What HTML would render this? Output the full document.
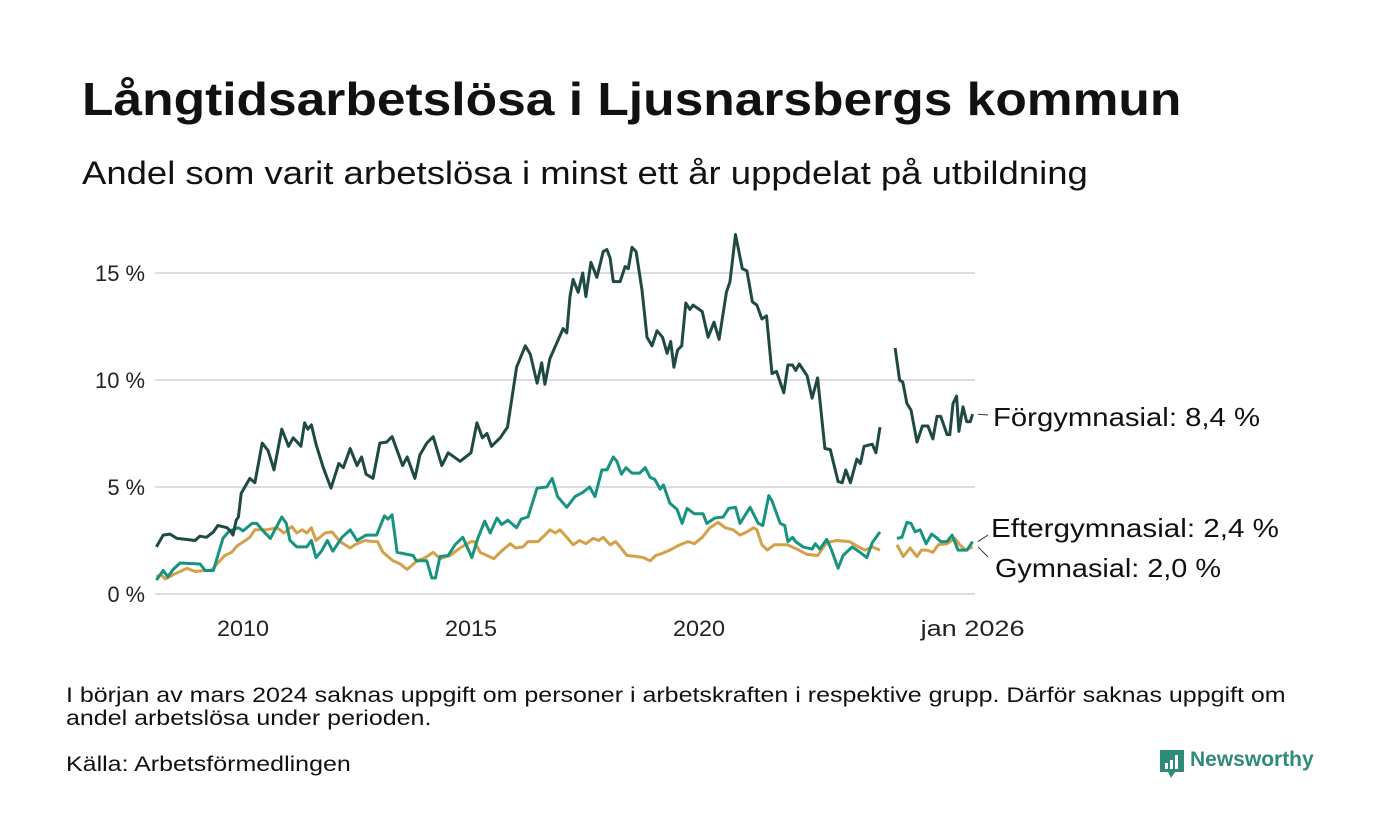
<!DOCTYPE html>
<html><head><meta charset="utf-8">
<style>
body{margin:0;background:#fff;width:1400px;height:840px;overflow:hidden;font-family:"Liberation Sans",sans-serif;color:#111;}
.t{position:absolute;white-space:nowrap;transform-origin:0 0;}
</style></head>
<body>
<div class="t" style="left:82px;top:72px;font-size:46px;font-weight:bold;transform:scaleX(1.12);">Långtidsarbetslösa i Ljusnarsbergs kommun</div>
<div class="t" style="left:82px;top:155px;font-size:32px;transform:scaleX(1.14);">Andel som varit arbetslösa i minst ett år uppdelat på utbildning</div>
<svg id="chart" width="1400" height="660" style="position:absolute;left:0;top:0" font-family="Liberation Sans, sans-serif"></svg>
<div class="t" style="left:66px;top:684px;font-size:21px;line-height:23px;transform:scaleX(1.19);">I början av mars 2024 saknas uppgift om personer i arbetskraften i respektive grupp. Därför saknas uppgift om<br>andel arbetslösa under perioden.</div>
<div class="t" style="left:66px;top:753px;font-size:21px;transform:scaleX(1.19);">Källa: Arbetsförmedlingen</div>
<div style="position:absolute;left:1160px;top:750px;">
<svg width="26" height="30" style="position:absolute;left:0;top:0"><path d="M0 0H24V22H15L11 28L8 22H0Z" fill="#2e8b7a"/><rect x="5" y="13" width="3" height="6" fill="#fff"/><rect x="10" y="10" width="3" height="9" fill="#fff"/><rect x="15" y="5" width="3" height="14" fill="#fff"/></svg>
<div class="t" style="left:30px;top:-2px;font-size:21px;font-weight:bold;color:#2e8b7a;">Newsworthy</div>
</div>
<script>
const yTicks=[0,5,10,15];
const yTickLabels=["0 %","5 %","10 %","15 %"];
const xTicks=[2010,2015,2020,2026];
const xTickLabels=["2010","2015","2020","jan 2026"];
const forDates=[2008.1,2008.25,2008.4,2008.55,2008.75,2008.95,2009.05,2009.2,2009.35,2009.45,2009.55,2009.65,2009.72,2009.78,2009.85,2009.9,2009.96,2010.15,2010.26,2010.42,2010.55,2010.68,2010.85,2011.0,2011.1,2011.27,2011.35,2011.42,2011.5,2011.6,2011.76,2011.93,2012.1,2012.2,2012.35,2012.5,2012.6,2012.7,2012.85,2013.0,2013.15,2013.27,2013.4,2013.5,2013.6,2013.77,2013.88,2014.03,2014.17,2014.36,2014.5,2014.76,2015.0,2015.13,2015.25,2015.35,2015.45,2015.64,2015.8,2016.0,2016.19,2016.3,2016.45,2016.55,2016.62,2016.73,2017.02,2017.1,2017.17,2017.24,2017.35,2017.45,2017.52,2017.63,2017.76,2017.9,2017.98,2018.05,2018.12,2018.27,2018.38,2018.45,2018.53,2018.62,2018.75,2018.86,2018.97,2019.08,2019.2,2019.3,2019.38,2019.45,2019.53,2019.62,2019.71,2019.8,2019.87,2020.07,2020.2,2020.33,2020.44,2020.6,2020.68,2020.8,2020.95,2021.05,2021.17,2021.27,2021.38,2021.48,2021.6,2021.7,2021.86,2021.95,2022.05,2022.12,2022.2,2022.37,2022.48,2022.6,2022.76,2022.88,2023.05,2023.14,2023.22,2023.32,2023.46,2023.54,2023.62,2023.8,2023.88,2023.97,2024.1,2024.3,2024.4,2024.47,2024.56,2024.65,2024.78,2024.9,2025.02,2025.13,2025.22,2025.3,2025.44,2025.5,2025.57,2025.65,2025.7,2025.79,2025.87,2025.95,2026.0];
const forValues=[2.2,2.75,2.8,2.6,2.55,2.5,2.7,2.65,2.9,3.2,3.15,3.1,2.95,2.75,3.45,3.6,4.7,5.4,5.2,7.05,6.7,5.8,7.7,6.9,7.3,6.9,8.0,7.7,7.9,7.0,5.9,4.95,6.1,5.9,6.8,6.0,6.4,5.6,5.4,7.05,7.1,7.35,6.6,6.0,6.4,5.4,6.5,7.05,7.35,6.0,6.6,6.2,6.6,8.0,7.3,7.5,6.9,7.3,7.8,10.6,11.6,11.2,9.85,10.8,9.8,11.0,12.4,12.2,13.9,14.7,14.1,15.0,13.9,15.5,14.8,16.0,16.1,15.7,14.6,14.6,15.3,15.2,16.2,16.0,14.2,12.0,11.6,12.3,12.0,11.25,11.8,10.6,11.4,11.6,13.6,13.3,13.5,13.2,12.0,12.7,11.9,14.1,14.6,16.8,15.2,15.1,13.65,13.5,12.85,13.0,10.3,10.4,9.4,10.7,10.7,10.45,10.75,10.2,9.15,10.1,6.8,6.75,5.25,5.2,5.8,5.2,6.3,6.1,6.9,7.0,6.6,7.8,null,11.5,10.0,9.9,8.9,8.6,7.1,7.85,7.85,7.25,8.3,8.3,7.45,7.45,8.9,9.25,7.6,8.75,8.05,8.05,8.4];
const eftDates=[2008.1,2008.25,2008.35,2008.47,2008.62,2009.06,2009.17,2009.35,2009.56,2009.7,2009.9,2010.0,2010.2,2010.3,2010.44,2010.6,2010.7,2010.85,2010.95,2011.03,2011.18,2011.4,2011.5,2011.6,2011.72,2011.85,2011.97,2012.17,2012.35,2012.5,2012.7,2012.93,2013.1,2013.18,2013.27,2013.38,2013.73,2013.8,2014.03,2014.14,2014.22,2014.32,2014.5,2014.65,2014.82,2015.02,2015.15,2015.3,2015.42,2015.57,2015.67,2015.81,2016.0,2016.1,2016.25,2016.45,2016.66,2016.78,2016.9,2017.1,2017.28,2017.45,2017.6,2017.72,2017.87,2017.98,2018.12,2018.2,2018.3,2018.4,2018.53,2018.7,2018.82,2018.93,2019.03,2019.15,2019.22,2019.36,2019.52,2019.63,2019.74,2019.9,2020.09,2020.17,2020.35,2020.53,2020.65,2020.8,2020.9,2021.12,2021.3,2021.4,2021.53,2021.6,2021.78,2021.88,2021.95,2022.05,2022.12,2022.28,2022.48,2022.55,2022.65,2022.8,2022.9,2023.05,2023.16,2023.36,2023.53,2023.68,2023.8,2023.97,2024.1,2024.34,2024.45,2024.56,2024.65,2024.74,2024.85,2024.98,2025.1,2025.2,2025.3,2025.44,2025.55,2025.68,2025.88,2026.0];
const eftValues=[0.65,1.1,0.8,1.15,1.45,1.4,1.1,1.1,2.6,2.95,3.1,2.95,3.3,3.3,2.95,2.6,3.0,3.6,3.3,2.5,2.2,2.2,2.5,1.7,2.0,2.5,2.0,2.65,3.0,2.5,2.75,2.75,3.65,3.5,3.7,1.95,1.8,1.55,1.55,0.75,0.75,1.75,1.8,2.3,2.65,1.7,2.6,3.4,2.85,3.55,3.25,3.45,3.1,3.5,3.6,4.95,5.0,5.4,4.55,4.05,4.55,4.75,5.0,4.55,5.8,5.8,6.4,6.2,5.6,5.9,5.65,5.65,5.9,5.45,5.35,4.9,5.1,4.25,3.95,3.3,4.0,3.75,3.75,3.3,3.55,3.6,4.0,4.05,3.3,4.05,3.3,3.2,4.6,4.35,3.3,3.2,2.45,2.65,2.45,2.2,2.1,2.35,2.1,2.55,2.1,1.2,1.8,2.2,1.95,1.7,2.4,2.9,null,2.6,2.65,3.35,3.3,2.9,3.0,2.35,2.8,2.65,2.45,2.45,2.75,2.05,2.05,2.45];
const gymDates=[2008.1,2008.2,2008.3,2008.47,2008.77,2008.95,2009.17,2009.3,2009.43,2009.6,2009.75,2009.87,2010.05,2010.15,2010.26,2010.52,2010.75,2010.9,2011.07,2011.18,2011.3,2011.4,2011.5,2011.6,2011.8,2011.95,2012.13,2012.35,2012.45,2012.67,2012.85,2012.95,2013.07,2013.29,2013.45,2013.6,2013.82,2014.0,2014.17,2014.32,2014.54,2014.76,2015.0,2015.08,2015.2,2015.35,2015.5,2015.64,2015.86,2015.98,2016.14,2016.25,2016.47,2016.62,2016.73,2016.85,2016.95,2017.1,2017.24,2017.38,2017.52,2017.68,2017.8,2017.9,2018.05,2018.17,2018.27,2018.42,2018.64,2018.78,2018.93,2019.05,2019.2,2019.36,2019.58,2019.76,2019.9,2020.07,2020.24,2020.42,2020.57,2020.75,2020.9,2021.05,2021.2,2021.27,2021.38,2021.5,2021.65,2021.93,2022.15,2022.37,2022.6,2022.8,2023.02,2023.3,2023.5,2023.64,2023.8,2023.97,2024.1,2024.34,2024.48,2024.63,2024.78,2024.88,2025.0,2025.13,2025.25,2025.44,2025.61,2025.72,2025.84,2026.0];
const gymValues=[0.8,0.9,0.7,0.9,1.2,1.05,1.1,1.1,1.4,1.8,1.95,2.25,2.5,2.65,3.0,3.0,3.1,2.85,3.15,2.85,3.0,2.85,3.1,2.5,2.85,2.9,2.45,2.15,2.3,2.5,2.45,2.45,1.95,1.55,1.4,1.15,1.55,1.7,1.95,1.65,1.8,2.15,2.45,2.45,1.95,1.8,1.65,1.95,2.35,2.15,2.2,2.45,2.45,2.75,3.0,2.85,3.0,2.65,2.3,2.5,2.35,2.6,2.5,2.65,2.3,2.45,2.2,1.8,1.75,1.7,1.55,1.8,1.9,2.05,2.3,2.45,2.35,2.65,3.1,3.35,3.1,3.0,2.75,2.9,3.1,3.0,2.3,2.05,2.3,2.3,2.1,1.85,1.8,2.4,2.5,2.45,2.2,2.05,2.2,2.05,null,2.3,1.75,2.15,1.75,2.05,2.05,1.95,2.3,2.35,2.6,2.3,2.05,2.2];

const NS="http://www.w3.org/2000/svg";
const svg=document.getElementById('chart');
const xS=t=>243+(t-2010)*45.6;
const yS=v=>594-v*21.4;
function mk(tag,attrs){const e=document.createElementNS(NS,tag);for(const k in attrs)e.setAttribute(k,attrs[k]);svg.appendChild(e);return e;}
yTicks.forEach((v,i)=>{
  const g=mk('line',{x1:155,x2:975,y1:yS(v),y2:yS(v),stroke:'#dcdce2','stroke-width':2});
  
  
  const tx=mk('text',{x:145,y:yS(v)+8,'text-anchor':'end','font-size':22,fill:'#222',textLength:(yTickLabels[i].length*12.5),lengthAdjust:'spacingAndGlyphs'});
  tx.textContent=yTickLabels[i];
  
  
});
xTicks.forEach((t,i)=>{
  const tx=mk('text',{x:xS(t),y:636,'text-anchor':'middle','font-size':22,fill:'#222',textLength:(xTickLabels[i].length*13),lengthAdjust:'spacingAndGlyphs'});
  tx.textContent=xTickLabels[i];
  
  
});
function path(dates,vals){let d='',pen=false;dates.forEach((t,i)=>{const v=vals[i];if(v===null){pen=false;return;}d+=(pen?'L':'M')+xS(t).toFixed(1)+' '+yS(v).toFixed(1);pen=true;});return d;}
const series=[[gymDates,gymValues,'#d4a04a','line-gymnasial'],[eftDates,eftValues,'#17937f','line-eftergymnasial'],[forDates,forValues,'#1f4a44','line-forgymnasial']];
series.forEach(s=>{
  const p=mk('path',{d:path(s[0],s[1]),fill:'none',stroke:s[2],'stroke-width':3,'stroke-linejoin':'round'});
  
  
});
const labels=[[forValues,'Förgymnasial: 8,4 %',993,417,267,415,'label-forgymnasial'],[eftValues,'Eftergymnasial: 2,4 %',991,528,288,535,'label-eftergymnasial'],[gymValues,'Gymnasial: 2,0 %',995,568,226,557,'label-gymnasial']];
labels.forEach(l=>{
  const v=l[0][l[0].length-1];
  const ln=mk('line',{x1:978,y1:yS(v),x2:988,y2:l[5],stroke:'#333','stroke-width':1});
  
  
  const tx=mk('text',{x:l[2],y:l[3]+9,'font-size':26,fill:'#111',textLength:l[4],lengthAdjust:'spacingAndGlyphs'});
  tx.textContent=l[1];
  
  
});
</script>
</body></html>
